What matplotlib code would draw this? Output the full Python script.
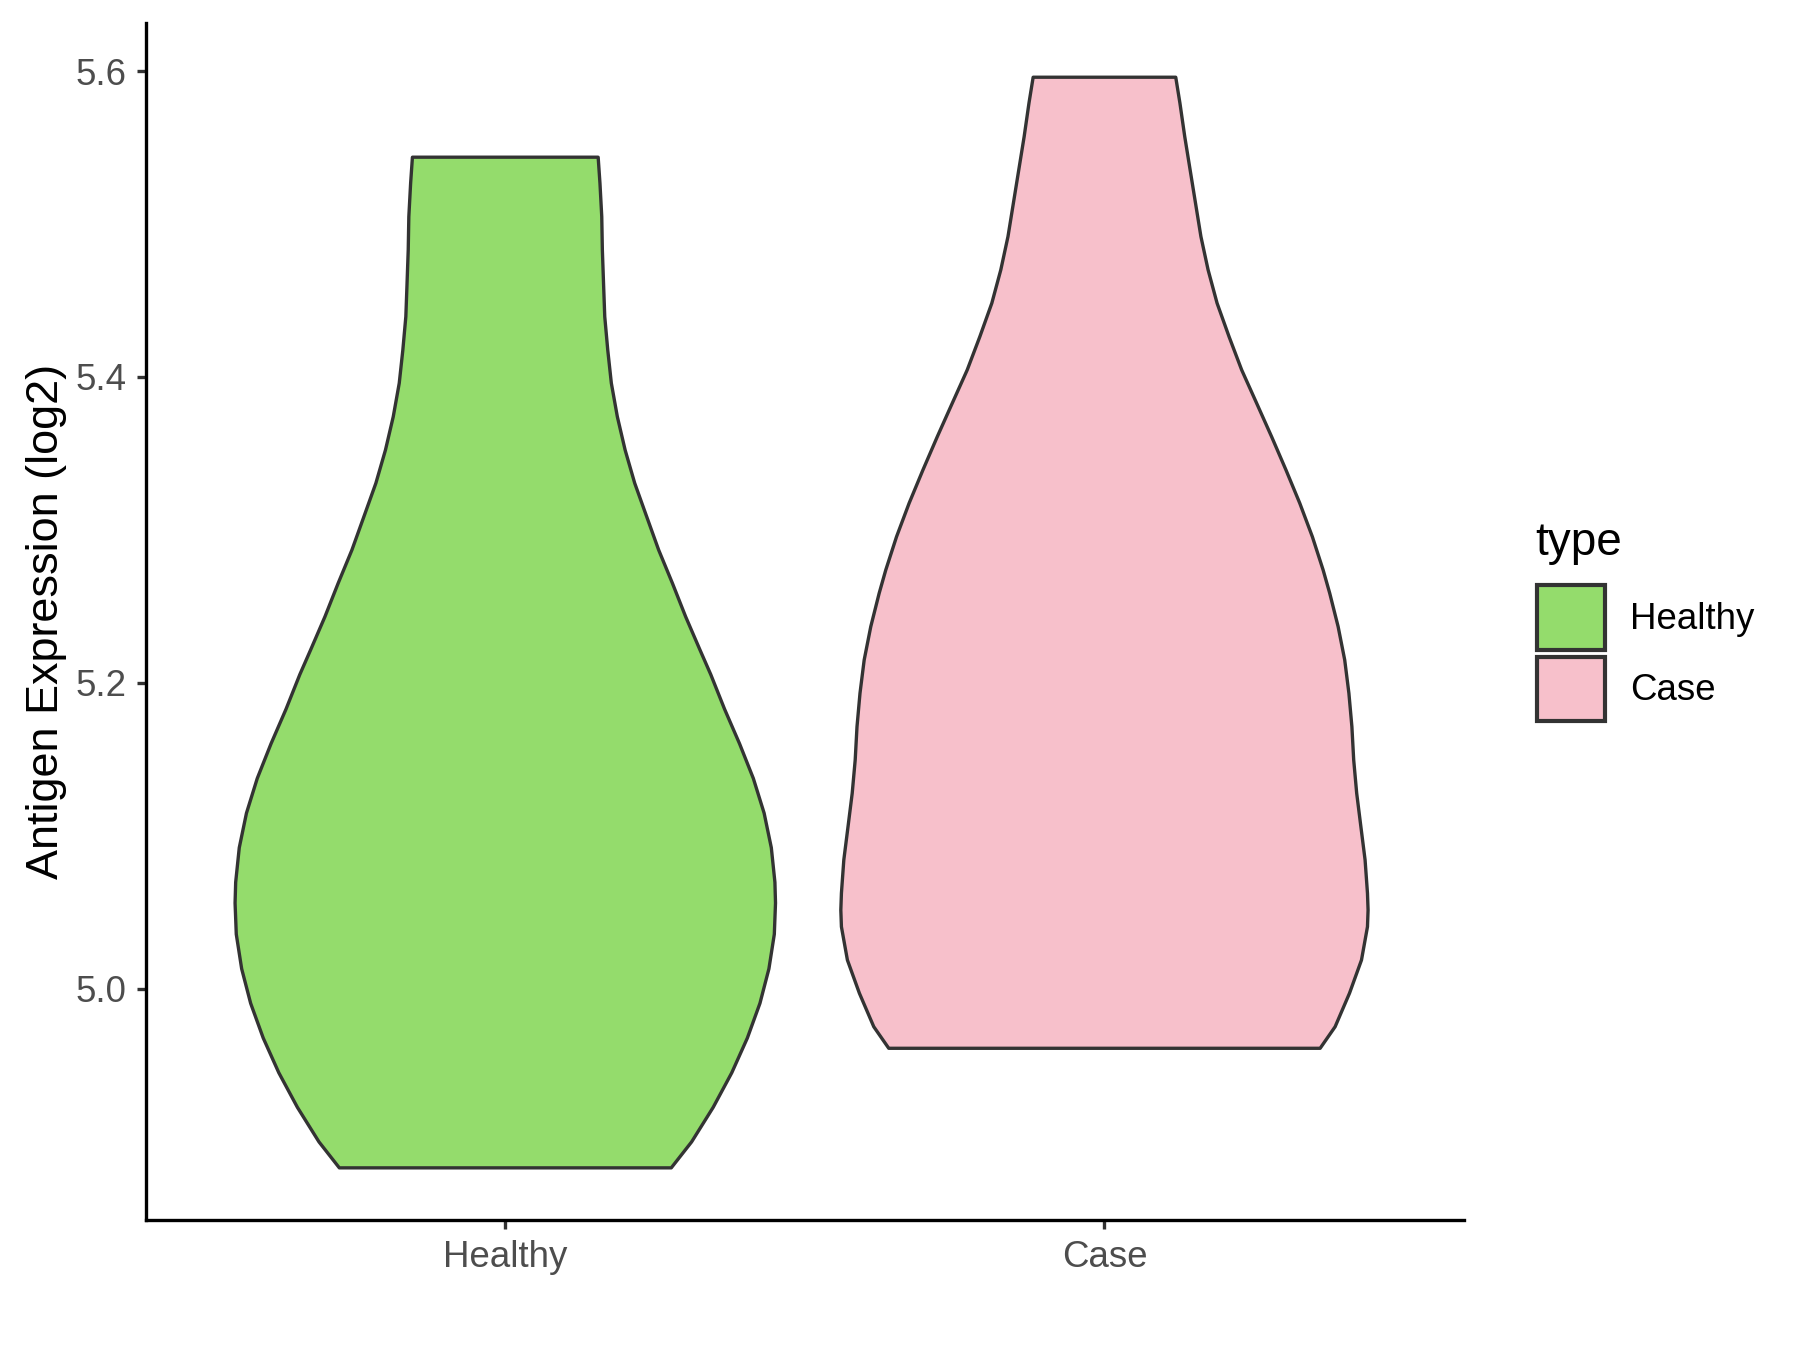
import numpy as np
import matplotlib
matplotlib.use("Agg")
from matplotlib import pyplot as plt
from matplotlib.patches import Patch

plt.rcParams['font.family'] = ['Liberation Sans', 'DejaVu Sans']

groups = ["Healthy", "Case"]
colors = {"Healthy": "#94DC6C", "Case": "#F7C0CB"}

# violin outlines: expression value and half-width (x units)
healthy_y = [5.5437, 5.5267, 5.5048, 5.4831, 5.4609, 5.4394, 5.4176, 5.3959, 5.3740,
             5.3522, 5.3305, 5.3086, 5.2868, 5.2650, 5.2432, 5.2214, 5.2053, 5.1827,
             5.1601, 5.1374, 5.1147, 5.0921, 5.0695, 5.0559, 5.0355, 5.0129, 4.9903,
             4.9676, 4.9449, 4.9223, 4.8997, 4.8827]
healthy_w = [0.155, 0.158, 0.161, 0.162, 0.164, 0.166, 0.171, 0.177, 0.187,
             0.200, 0.216, 0.236, 0.256, 0.279, 0.301, 0.325, 0.343, 0.366,
             0.391, 0.414, 0.432, 0.444, 0.450, 0.451, 0.449, 0.440, 0.425,
             0.404, 0.378, 0.347, 0.311, 0.277]

case_y = [5.5960, 5.5790, 5.5572, 5.5354, 5.5136, 5.4918, 5.4700, 5.4482, 5.4263,
          5.4046, 5.3828, 5.3609, 5.3391, 5.3174, 5.2955, 5.2737, 5.2585, 5.2367,
          5.2149, 5.1931, 5.1712, 5.1495, 5.1277, 5.1058, 5.0841, 5.0623, 5.0513,
          5.0404, 5.0186, 4.9969, 4.9750, 4.9609]
case_w = [0.119, 0.126, 0.134, 0.143, 0.152, 0.161, 0.173, 0.188, 0.208,
          0.229, 0.254, 0.279, 0.303, 0.326, 0.347, 0.365, 0.376, 0.390,
          0.401, 0.408, 0.413, 0.416, 0.421, 0.428, 0.435, 0.439, 0.440,
          0.439, 0.429, 0.409, 0.385, 0.360]

shapes = {"Healthy": (healthy_y, healthy_w), "Case": (case_y, case_w)}

fig = plt.figure(figsize=(6, 4.5), dpi=300)
ax = fig.add_axes([0.081, 0.0963, 0.7323, 0.8867])

for i, g in enumerate(groups):
    y = np.array(shapes[g][0])
    w = np.array(shapes[g][1])
    pos = i + 1
    xs = np.concatenate([pos - w, (pos + w)[::-1]])
    ys = np.concatenate([y, y[::-1]])
    ax.fill(xs, ys, facecolor=colors[g], edgecolor="#333333", linewidth=0.8,
            joinstyle="round", zorder=2)

ax.set_xlim(0.4, 2.6)
ax.set_ylim(4.8486, 5.6315)
ax.set_xticks([1, 2])
ax.set_xticklabels(groups)
ax.set_yticks([5.0, 5.2, 5.4, 5.6])
ax.set_yticklabels(["5.0", "5.2", "5.4", "5.6"])
ax.set_ylabel("Antigen Expression (log2)", fontsize=10.8, color="black", labelpad=2)

for s in ["top", "right"]:
    ax.spines[s].set_visible(False)
for s in ["left", "bottom"]:
    ax.spines[s].set_linewidth(0.8)
    ax.spines[s].set_color("black")
ax.tick_params(axis="both", length=2.2, width=0.8, color="#333333",
               labelsize=8.8, labelcolor="#4D4D4D", pad=2.5)

# legend
handles = [Patch(facecolor=colors[g], edgecolor="#333333", linewidth=1.0, label=g)
           for g in groups]
fig.legend(handles=handles, loc="upper left", bbox_to_anchor=(0.8537, 0.5663),
           frameon=False, fontsize=8.8, handlelength=1.86, handleheight=2.315,
           labelspacing=0.19, handletextpad=0.68, borderaxespad=0, borderpad=0)
fig.text(0.8528, 0.5889, "type", fontsize=11, ha="left", va="baseline")

fig.savefig("out.png", dpi=300)
